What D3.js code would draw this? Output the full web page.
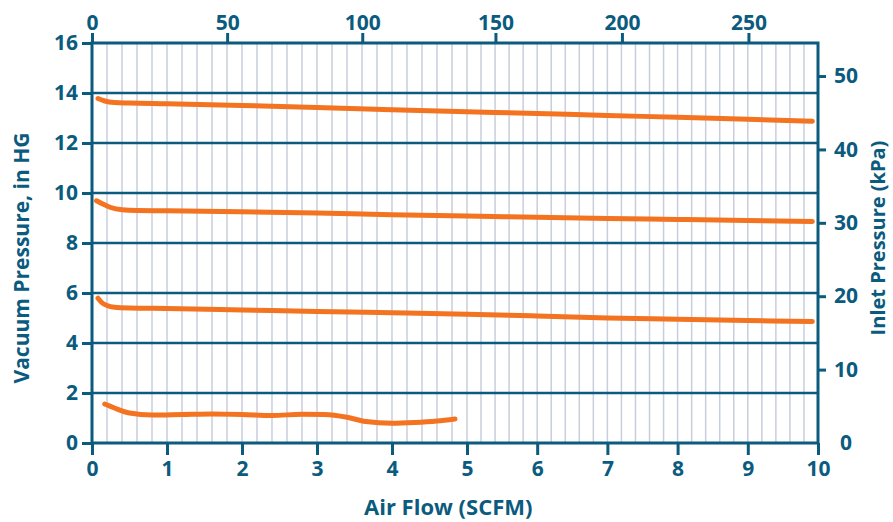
<!DOCTYPE html>
<html>
<head>
<meta charset="utf-8">
<script src="https://cdn.jsdelivr.net/npm/d3@7"></script>
<style>
  body { margin: 0; background: #fff; }
  svg text { font-family: "Open Sans", sans-serif; font-weight: 700; fill: #0b5b7e; }
</style>
</head>
<body>
<div id="chart"></div>
<script>
// air flow (SCFM) vs vacuum (in HG), one line per setting
var curveHigh = [[0.08, 13.78], [0.17, 13.68], [0.3, 13.62], [0.5, 13.6], [1, 13.57], [2, 13.5], [3, 13.42],
    [4, 13.33], [5, 13.25], [6, 13.18], [7, 13.1], [8, 13.03], [9, 12.95], [9.92, 12.87]];
var curveMid = [[0.06, 9.69], [0.15, 9.55], [0.25, 9.42], [0.4, 9.33], [0.6, 9.3], [1, 9.29], [2, 9.25],
    [3, 9.2], [4, 9.13], [5, 9.08], [6, 9.03], [7, 8.98], [8, 8.94], [9, 8.9], [9.92, 8.86]];
var curveLow = [[0.08, 5.79], [0.13, 5.62], [0.2, 5.5], [0.3, 5.43], [0.5, 5.4], [1, 5.38], [2, 5.32],
    [3, 5.26], [4, 5.21], [5, 5.15], [6, 5.08], [7, 5.0], [8, 4.95], [9, 4.9], [9.92, 4.86]];
var curveOpen = [[0.17, 1.56], [0.3, 1.4], [0.5, 1.2], [0.8, 1.12], [1.2, 1.14], [1.6, 1.16], [2, 1.14],
    [2.4, 1.1], [2.8, 1.15], [3.1, 1.14], [3.4, 1.03], [3.65, 0.86], [4, 0.79], [4.3, 0.82], [4.6, 0.88], [4.84, 0.96]];

var bottomTicks = [0, 1, 2, 3, 4, 5, 6, 7, 8, 9, 10];
var topTicks = [0, 50, 100, 150, 200, 250];
var leftTicks = [0, 2, 4, 6, 8, 10, 12, 14, 16];
var rightTicks = [0, 10, 20, 30, 40, 50];

var teal = "#0b5b7e",
    orange = "#f37321",
    gridColor = "#c8cedc";

var width = 893, height = 522;
var margin = { top: 43, right: 75, bottom: 79, left: 92 };
var w = width - margin.left - margin.right,
    h = height - margin.top - margin.bottom;

// the printed x axis is slightly stretched on its left half
var x = d3.scaleLinear().domain([0, 5, 10]).range([0, w * 0.5165, w]);
var xTop = d3.scaleLinear().domain([0, 5 * 27.75, 10 * 27.75]).range([0, w * 0.5165, w]);
var y = d3.scaleLinear().domain([0, 16]).range([h, 0]);
var yRight = d3.scaleLinear().domain([0, 54.5]).range([h, 0]);

var svg = d3.select("#chart").append("svg")
    .attr("width", width)
    .attr("height", height);

var g = svg.append("g")
    .attr("transform", "translate(" + margin.left + "," + margin.top + ")");

// light vertical grid every 0.2 SCFM
g.append("g")
    .selectAll("line")
    .data(d3.range(1, 50).map(function (i) { return i * 0.2; }))
    .enter().append("line")
    .attr("x1", function (d) { return x(d); })
    .attr("x2", function (d) { return x(d); })
    .attr("y1", 0)
    .attr("y2", h)
    .attr("stroke", gridColor)
    .attr("stroke-width", 1.5);

// dark horizontal grid
g.append("g")
    .selectAll("line")
    .data(leftTicks.slice(1, -1))
    .enter().append("line")
    .attr("x1", 0)
    .attr("x2", w)
    .attr("y1", function (d) { return y(d); })
    .attr("y2", function (d) { return y(d); })
    .attr("stroke", teal)
    .attr("stroke-width", 2.5);

function styleAxis(sel) {
    sel.select(".domain").remove();
    sel.selectAll(".tick line").attr("stroke", teal).attr("stroke-width", 3);
    sel.selectAll(".tick text").style("font-size", "21px").attr("fill", teal);
}

g.append("g")
    .attr("transform", "translate(0," + h + ")")
    .call(d3.axisBottom(x).tickValues(bottomTicks).tickSize(12).tickPadding(6).tickFormat(d3.format("d")))
    .call(styleAxis);

g.append("g")
    .call(d3.axisTop(xTop).tickValues(topTicks).tickSize(10).tickPadding(3).tickFormat(d3.format("d")))
    .call(styleAxis);

g.append("g")
    .call(d3.axisLeft(y).tickValues(leftTicks).tickSize(10).tickPadding(4).tickFormat(d3.format("d")))
    .call(styleAxis);

var rightAxis = g.append("g")
    .attr("transform", "translate(" + w + ",0)")
    .call(d3.axisRight(yRight).tickValues(rightTicks).tickSize(8).tickPadding(8).tickFormat(d3.format("d")))
    .call(styleAxis);
rightAxis.selectAll(".tick").filter(function (d) { return d === 0; })
    .select("line").remove();
rightAxis.selectAll(".tick").filter(function (d) { return d === 0; })
    .select("text").attr("x", 22);

// plot frame
g.append("rect")
    .attr("width", w)
    .attr("height", h)
    .attr("fill", "none")
    .attr("stroke", teal)
    .attr("stroke-width", 3);

var line = d3.line()
    .x(function (d) { return x(d[0]); })
    .y(function (d) { return y(d[1]); })
    .curve(d3.curveMonotoneX);

[curveHigh, curveMid, curveLow, curveOpen].forEach(function (c) {
    g.append("path")
        .datum(c)
        .attr("fill", "none")
        .attr("stroke", orange)
        .attr("stroke-width", 5)
        .attr("stroke-linecap", "round")
        .attr("d", line);
});

// axis titles
svg.append("text")
    .attr("x", margin.left + x(4.75))
    .attr("y", 515)
    .attr("text-anchor", "middle")
    .style("font-size", "22px")
    .text("Air Flow (SCFM)");

svg.append("text")
    .attr("transform", "translate(29,258)rotate(-90)")
    .attr("text-anchor", "middle")
    .style("font-size", "21px")
    .text("Vacuum Pressure, in HG");

svg.append("text")
    .attr("transform", "translate(885,238)rotate(-90)")
    .attr("text-anchor", "middle")
    .style("font-size", "20px")
    .text("Inlet Pressure (kPa)");
</script>
</body>
</html>
